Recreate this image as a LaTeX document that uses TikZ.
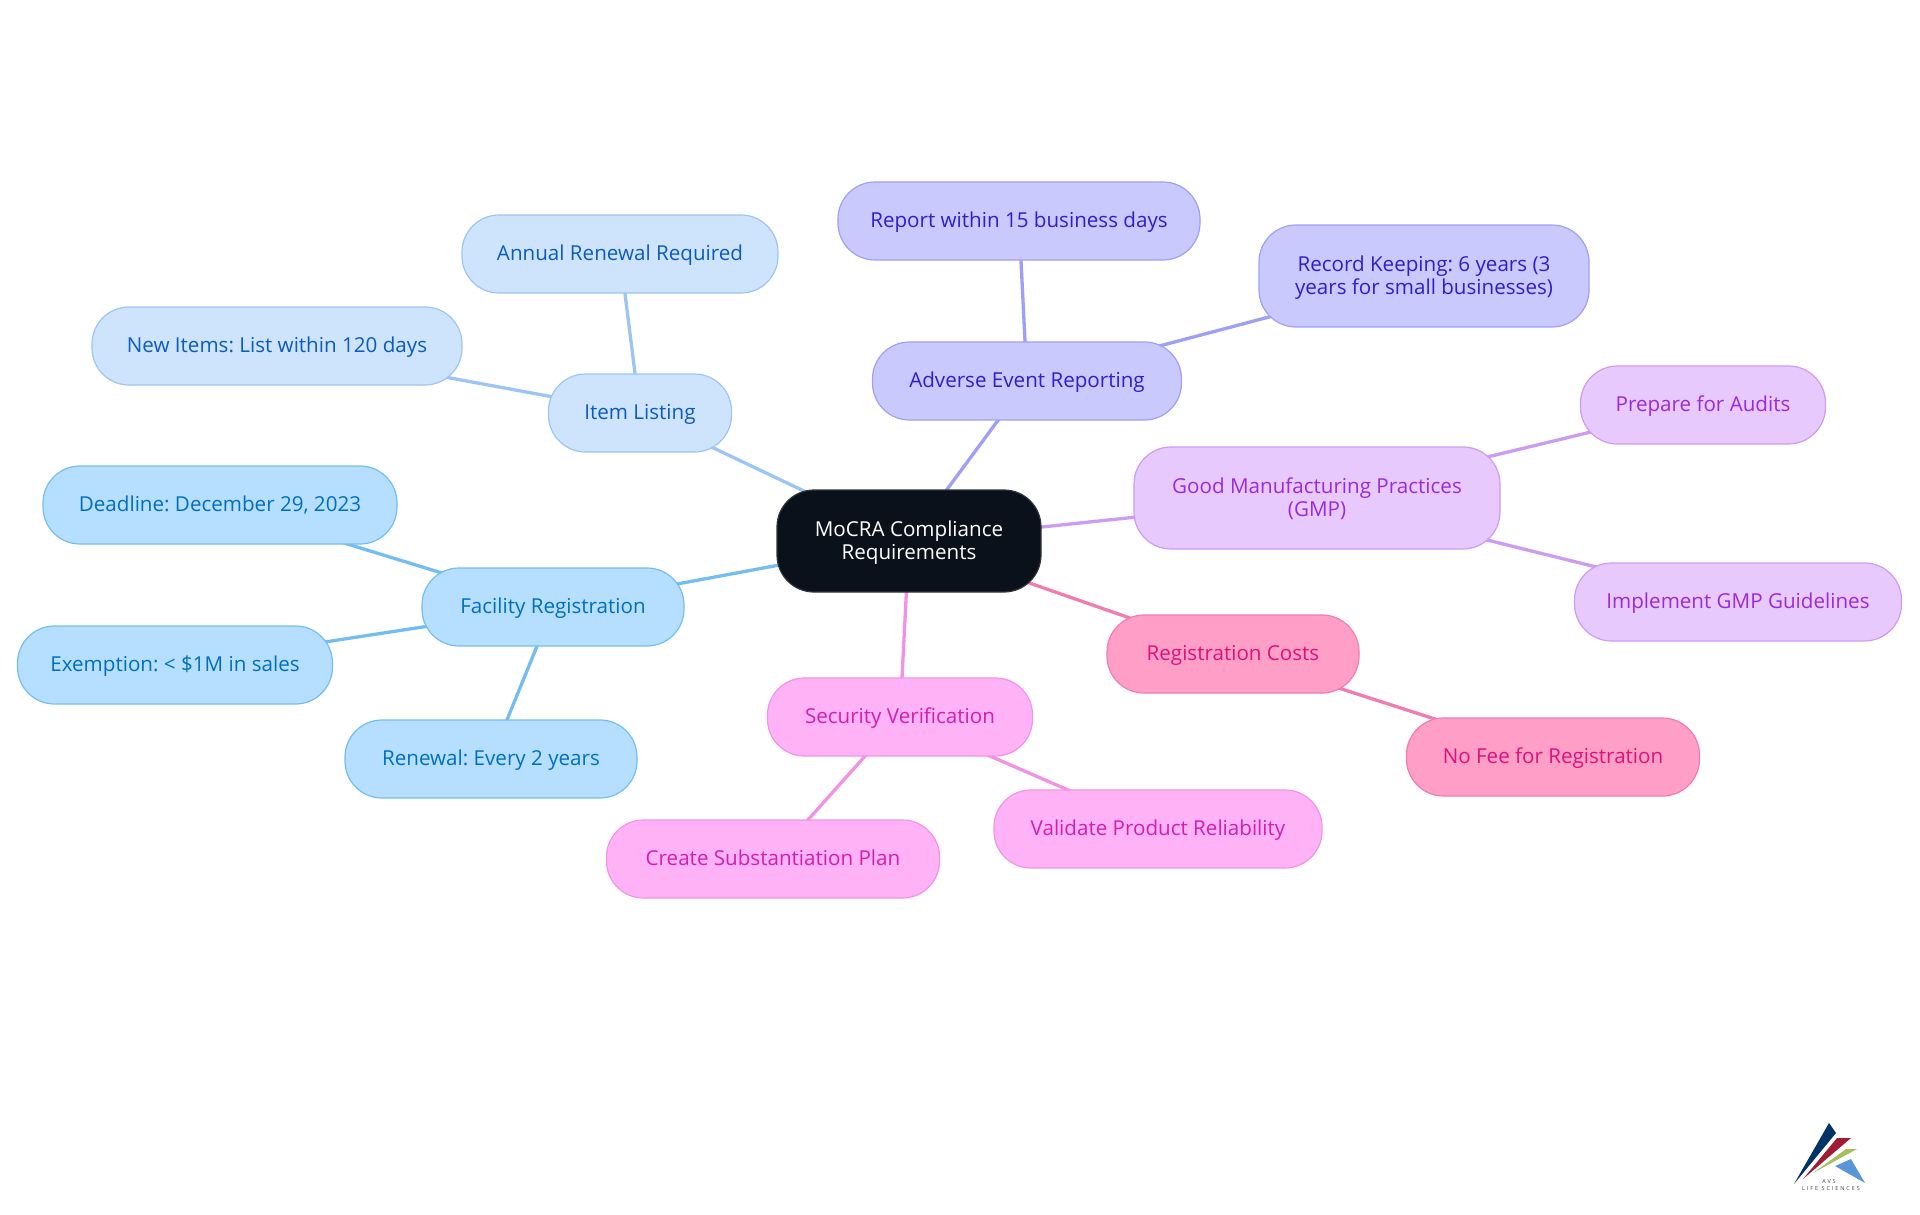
\documentclass[tikz,border=0pt]{standalone}
\usepackage{fontspec}
\setmainfont{Open Sans}
\usetikzlibrary{backgrounds}
\definecolor{rootfill}{HTML}{0B111A}
\definecolor{itemfill}{HTML}{CEE3FC}
\definecolor{itemline}{HTML}{9CC5F3}
\definecolor{itemtext}{HTML}{0B5CBE}
\definecolor{facilfill}{HTML}{B6DEFE}
\definecolor{facilline}{HTML}{74BDF0}
\definecolor{faciltext}{HTML}{0070BE}
\definecolor{advfill}{HTML}{C9C9FE}
\definecolor{advline}{HTML}{9F9FF5}
\definecolor{advtext}{HTML}{2E1FCB}
\definecolor{gmpfill}{HTML}{E8C9FE}
\definecolor{gmpline}{HTML}{CC9BF2}
\definecolor{gmptext}{HTML}{9A2BDA}
\definecolor{regfill}{HTML}{FF9FC8}
\definecolor{regline}{HTML}{F07CB0}
\definecolor{regtext}{HTML}{E0107A}
\definecolor{secfill}{HTML}{FFB3F6}
\definecolor{secline}{HTML}{F292E6}
\definecolor{sectext}{HTML}{D01FB0}
\begin{document}
\begin{tikzpicture}[x=1pt,y=-1pt,
        mapnode/.style={rounded corners=37pt,minimum height=78pt,inner sep=0pt,
            align=center,line width=1.2pt,text height=18pt,text depth=5.4pt,
            font=\frenchspacing\fontsize{20.6}{23}\selectfont},
        twoline/.style={minimum height=102pt,text height=41pt,text depth=5pt},
        rootnode/.style={mapnode,fill=rootfill,draw=rootfill!85!white,text=white},
        itemnode/.style={mapnode,fill=itemfill,draw=itemline,text=itemtext},
        facilnode/.style={mapnode,fill=facilfill,draw=facilline,text=faciltext},
        advnode/.style={mapnode,fill=advfill,draw=advline,text=advtext},
        gmpnode/.style={mapnode,fill=gmpfill,draw=gmpline,text=gmptext},
        regnode/.style={mapnode,fill=regfill,draw=regline,text=regtext},
        secnode/.style={mapnode,fill=secfill,draw=secline,text=sectext},
        logotext/.style={inner sep=0pt,text=black!75,
            font=\fontsize{5.5}{6}\selectfont\addfontfeatures{LetterSpace=35}},
        link/.style={line width=3.3pt}]
\useasboundingbox (0,0) rectangle (1920,1215);

\node[rootnode,twoline,minimum width=264pt] (root) at (909,541) {MoCRA Compliance\\Requirements};

\node[itemnode,minimum width=183pt] (item) at (640,413) {Item Listing};
\node[itemnode,minimum width=316pt] (renewreq) at (620,254) {Annual Renewal Required};
\node[itemnode,minimum width=370pt] (newitems) at (277,346) {New Items: List within 120 days};

\node[facilnode,minimum width=262pt] (facil) at (553,607) {Facility Registration};
\node[facilnode,minimum width=354pt] (deadline) at (220,505) {Deadline: December 29, 2023};
\node[facilnode,minimum width=315pt] (exempt) at (175,665) {Exemption: < \$1M in sales};
\node[facilnode,minimum width=292pt] (renewal) at (491,759) {Renewal: Every 2 years};

\node[secnode,minimum width=265pt] (sec) at (900,717) {Security Verification};
\node[secnode,minimum width=333pt] (plan) at (773,859) {Create Substantiation Plan};
\node[secnode,minimum width=328pt] (valid) at (1158,829) {Validate Product Reliability};

\node[regnode,minimum width=252pt] (reg) at (1233,654) {Registration Costs};
\node[regnode,minimum width=293pt] (nofee) at (1553,757) {No Fee for Registration};

\node[gmpnode,twoline,minimum width=366pt] (gmp) at (1317,498) {Good Manufacturing Practices\\(GMP)};
\node[gmpnode,minimum width=245pt] (audits) at (1703,405) {Prepare for Audits};
\node[gmpnode,minimum width=327pt] (guide) at (1738,602) {Implement GMP Guidelines};

\node[advnode,minimum width=309pt] (adv) at (1027,381) {Adverse Event Reporting};
\node[advnode,minimum width=362pt] (report) at (1019,221) {Report within 15 business days};
\node[advnode,twoline,minimum width=330pt] (record) at (1424,276) {Record Keeping: 6 years (3\\years for small businesses)};

\begin{scope}[on background layer]
\draw[link,itemline] (root.center) -- (item.center);
\draw[link,itemline] (item.center) -- (renewreq.center);
\draw[link,itemline] (item.center) -- (newitems.center);
\draw[link,facilline] (root.center) -- (facil.center);
\draw[link,facilline] (facil.center) -- (deadline.center);
\draw[link,facilline] (facil.center) -- (exempt.center);
\draw[link,facilline] (facil.center) -- (renewal.center);
\draw[link,secline] (root.center) -- (sec.center);
\draw[link,secline] (sec.center) -- (plan.center);
\draw[link,secline] (sec.center) -- (valid.center);
\draw[link,regline] (root.center) -- (reg.center);
\draw[link,regline] (reg.center) -- (nofee.center);
\draw[link,gmpline] (root.center) -- (gmp.center);
\draw[link,gmpline] (gmp.center) -- (audits.center);
\draw[link,gmpline] (gmp.center) -- (guide.center);
\draw[link,advline] (root.center) -- (adv.center);
\draw[link,advline] (adv.center) -- (report.center);
\draw[link,advline] (adv.center) -- (record.center);
\end{scope}

% logo
\fill[color={rgb,255:red,0;green,51;blue,102}] (1829,1123) -- (1836,1133) -- (1794,1184) -- cycle;
\fill[color={rgb,255:red,160;green,28;blue,50}] (1837,1138) -- (1851,1138) -- (1803,1179) -- cycle;
\fill[color={rgb,255:red,168;green,190;blue,90}] (1846,1149) -- (1857,1149) -- (1813,1173) -- cycle;
\fill[color={rgb,255:red,90;green,150;blue,215}] (1851,1159) -- (1835,1166) -- (1865,1183) -- cycle;
\node[logotext] (avs) at (1829,1182) {AVS};
\node[logotext] (life) at (1831,1189) {LIFE SCIENCES};
\end{tikzpicture}
\end{document}
